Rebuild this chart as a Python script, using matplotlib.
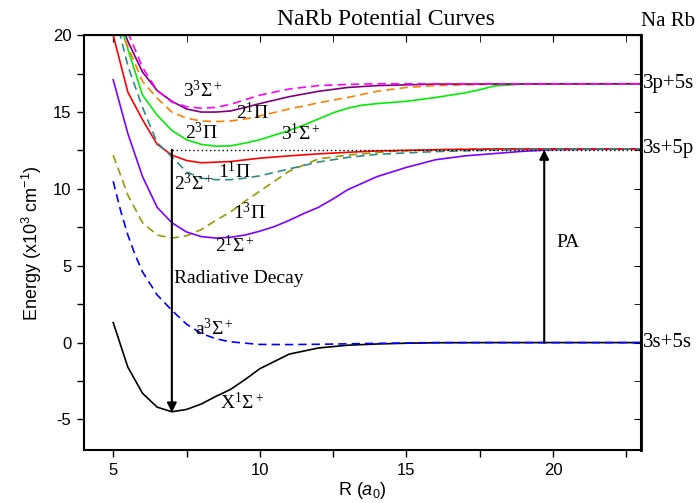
import matplotlib
matplotlib.use("Agg")
import matplotlib.pyplot as plt
from matplotlib.ticker import MultipleLocator

plt.rcParams["font.family"] = "Liberation Serif"
plt.rcParams["font.sans-serif"] = ["Liberation Sans"]
plt.rcParams["mathtext.fontset"] = "custom"
plt.rcParams["mathtext.default"] = "regular"
plt.rcParams["mathtext.it"] = "Liberation Sans:italic"
plt.rcParams["axes.unicode_minus"] = False

# X1Sigma+ ground state
r_x = [5, 5.5, 6, 6.5, 7, 7.5, 8, 8.5, 9, 9.5, 10, 11, 12, 13, 14, 15, 16, 18, 20, 23]
e_x = [1.3, -1.6, -3.3, -4.2, -4.5, -4.35, -4.0, -3.5, -3.05, -2.4, -1.7, -0.75,
       -0.35, -0.17, -0.09, -0.04, -0.01, 0, 0, 0]

# a3Sigma+
r_a = [5, 5.25, 5.5, 5.75, 6, 6.5, 7, 7.5, 8, 8.5, 9, 10, 11, 12, 14, 16, 23]
e_a = [10.5, 8.6, 7.0, 5.7, 4.6, 3.1, 2.1, 1.2, 0.6, 0.25, 0.05, -0.12, -0.13,
       -0.11, -0.05, 0, 0]

# 1(3)Pi
r_13pi = [5, 5.5, 6, 6.5, 7, 7.5, 8, 8.5, 9, 9.5, 10, 10.5, 11, 12, 13, 14.5, 16, 18, 23]
e_13pi = [12.2, 9.6, 7.8, 7.0, 6.8, 6.95, 7.35, 7.95, 8.5, 9.2, 9.85, 10.5, 11.15,
          11.95, 12.2, 12.45, 12.55, 12.6, 12.6]

# 2(1)Sigma+
r_21s = [5, 5.5, 6, 6.5, 7, 7.5, 8, 8.5, 9, 9.5, 10, 10.5, 11, 11.5, 12, 12.5, 13,
         14, 15, 16, 17, 18, 19, 20, 23]
e_21s = [17.1, 13.6, 10.8, 8.8, 7.8, 7.2, 6.9, 6.8, 6.85, 7.0, 7.25, 7.55, 7.95,
         8.4, 8.8, 9.35, 9.95, 10.8, 11.4, 11.9, 12.15, 12.3, 12.45, 12.55, 12.6]

# 1(1)Pi
r_11pi = [5, 5.5, 6, 6.5, 7, 7.5, 8, 9, 10, 11, 12, 13, 14, 16, 18, 23]
e_11pi = [20.0, 16.3, 14.5, 12.9, 12.2, 11.85, 11.7, 11.78, 12.0, 12.15, 12.28,
          12.38, 12.47, 12.55, 12.6, 12.6]

# 2(3)Sigma+
r_23s = [5.2, 5.5, 6, 6.5, 7, 7.5, 8, 8.5, 9, 9.5, 10, 11, 12, 13, 14, 16, 18, 20, 23]
e_23s = [20.3, 18.0, 15.3, 13.0, 12.1, 11.1, 10.7, 10.6, 10.6, 10.7, 10.85, 11.3,
         11.75, 12.05, 12.25, 12.43, 12.53, 12.58, 12.6]

# 2(3)Pi / 3(1)Sigma+
r_green = [5.3, 5.5, 6, 6.5, 7, 7.5, 8, 8.5, 9, 9.5, 10, 10.5, 11, 11.5, 12, 12.5,
           13, 13.5, 14, 15, 16, 17, 17.5, 18, 19, 23]
e_green = [20.3, 19.1, 16.1, 14.8, 13.8, 13.2, 12.9, 12.78, 12.8, 12.98, 13.2, 13.5,
           13.8, 14.15, 14.55, 14.95, 15.25, 15.45, 15.55, 15.7, 15.95, 16.25, 16.45,
           16.7, 16.82, 16.84]

# 2(1)Pi
r_21pi = [5.4, 6, 6.5, 7, 7.5, 8, 8.5, 9, 9.5, 10, 11, 12, 13, 14, 15, 16, 18, 23]
e_21pi = [19.7, 17.0, 15.9, 15.0, 14.6, 14.42, 14.38, 14.42, 14.55, 14.75, 15.2,
          15.6, 15.95, 16.35, 16.6, 16.72, 16.82, 16.84]

# 3(3)Sigma+ (solid)
r_33s = [5.4, 5.5, 6, 6.5, 7, 7.5, 8, 8.5, 9, 9.5, 10, 11, 12, 13, 14, 16, 23]
e_33s = [20.1, 19.6, 17.6, 16.4, 15.7, 15.2, 15.0, 15.0, 15.07, 15.3, 15.55, 16.0,
         16.35, 16.6, 16.72, 16.82, 16.84]

# upper dashed (magenta)
r_mag = [5.5, 6, 6.5, 7, 7.5, 8, 8.5, 9, 9.5, 10, 11, 12, 13, 14, 16, 23]
e_mag = [20.2, 17.9, 16.4, 15.65, 15.35, 15.25, 15.3, 15.5, 15.8, 16.1, 16.5, 16.72,
         16.8, 16.84, 16.84, 16.84]

asymptotes = [0, 12.6, 16.84]
asym_labels = ["3s+5s", "3s+5p", "3p+5s"]

fig = plt.figure(figsize=(6.99, 5.03), dpi=100)
ax = fig.add_axes([0.120, 0.105, 0.797, 0.825])

dash = (0, (5, 3))
lw = 1.2
ax.plot(r_x, e_x, color="black", lw=lw)
ax.plot(r_a, e_a, color="#0000ff", lw=lw, ls=dash)
ax.plot(r_13pi, e_13pi, color="#999900", lw=lw, ls=dash)
ax.plot(r_21s, e_21s, color="#8000ff", lw=lw)
ax.plot(r_11pi, e_11pi, color="#ff0000", lw=lw)
ax.plot(r_23s, e_23s, color="#2e8b8b", lw=lw, ls=dash)
ax.plot(r_green, e_green, color="#00ee00", lw=lw)
ax.plot(r_21pi, e_21pi, color="#ff8000", lw=lw, ls=dash)
ax.plot(r_33s, e_33s, color="#800080", lw=lw)
ax.plot(r_mag, e_mag, color="#ff00ff", lw=lw, ls=dash)

# dotted level at the 3s+5p asymptote
ax.plot([7, 23], [12.5, 12.5], color="black", lw=1, ls=(0, (1, 2)))

# arrows
ax.annotate("", xy=(7, -4.55), xytext=(7, 12.55),
            arrowprops=dict(arrowstyle="-|>", color="black", lw=1.5,
                            mutation_scale=14, shrinkA=0, shrinkB=0))
ax.annotate("", xy=(19.7, 12.55), xytext=(19.7, 0),
            arrowprops=dict(arrowstyle="-|>", color="black", lw=1.5,
                            mutation_scale=14, shrinkA=0, shrinkB=0))

fs = 14
ax.text(8.05, 16.4, r"3$^3\Sigma^+$", fontsize=fs, ha="center", va="center")
ax.text(9.75, 14.95, r"2$^1\Pi$", fontsize=fs, ha="center", va="center")
ax.text(8.0, 13.7, r"2$^3\Pi$", fontsize=fs, ha="center", va="center")
ax.text(11.4, 13.6, r"3$^1\Sigma^+$", fontsize=fs, ha="center", va="center")
ax.text(9.15, 11.15, r"1$^1\Pi$", fontsize=fs, ha="center", va="center")
ax.text(7.75, 10.35, r"2$^3\Sigma^+$", fontsize=fs, ha="center", va="center")
ax.text(9.65, 8.45, r"1$^3\Pi$", fontsize=fs, ha="center", va="center")
ax.text(9.15, 6.3, r"2$^1\Sigma^+$", fontsize=fs, ha="center", va="center")
ax.text(8.45, 0.9, r"a$^3\Sigma^+$", fontsize=fs, ha="center", va="center")
ax.text(9.4, -3.9, r"X$^1\Sigma^+$", fontsize=fs, ha="center", va="center")
ax.text(7.08, 4.2, "Radiative Decay", fontsize=fs, ha="left", va="center")
ax.text(20.1, 6.5, "PA", fontsize=fs, ha="left", va="center")

for e, lab in zip(asymptotes, asym_labels):
    ax.text(1.004, e, lab, transform=ax.get_yaxis_transform(), fontsize=15,
            ha="left", va="center", clip_on=False)
ax.text(1.0, 20.3, "Na Rb", transform=ax.get_yaxis_transform(), fontsize=15,
        ha="left", va="bottom", clip_on=False)

fig.text(0.552, 0.962, "NaRb Potential Curves", fontsize=17, ha="center",
         va="center")

ax.set_xlim(4, 23)
ax.set_ylim(-7, 20)
ax.xaxis.set_major_locator(MultipleLocator(5))
ax.xaxis.set_minor_locator(MultipleLocator(2.5))
ax.yaxis.set_major_locator(MultipleLocator(5))
ax.yaxis.set_minor_locator(MultipleLocator(2.5))
ax.tick_params(which="both", direction="out", length=5, width=1,
               top=False, right=False, labelsize=12, pad=4)
for lab in ax.get_xticklabels() + ax.get_yticklabels():
    lab.set_family("Liberation Sans")

# inward ticks on the top and right edges
ax_t = ax.secondary_xaxis("top")
ax_t.xaxis.set_major_locator(MultipleLocator(5))
ax_t.xaxis.set_minor_locator(MultipleLocator(2.5))
ax_t.tick_params(which="both", direction="in", length=5, labeltop=False)
ax_r = ax.secondary_yaxis("right")
ax_r.yaxis.set_major_locator(MultipleLocator(5))
ax_r.yaxis.set_minor_locator(MultipleLocator(2.5))
ax_r.tick_params(which="both", direction="in", length=5, labelright=False)

for s in ax.spines.values():
    s.set_linewidth(1.5)
ax_r.spines["right"].set_linewidth(2)

ax.set_ylabel(r"Energy (x10$^3$ cm$^{-1}$)", family="Liberation Sans",
              fontsize=13, labelpad=6)
ax.set_xlabel(r"R ($\mathit{a_0}$)", family="Liberation Sans", fontsize=13,
              labelpad=2)

fig.savefig("out.png", dpi=100)
